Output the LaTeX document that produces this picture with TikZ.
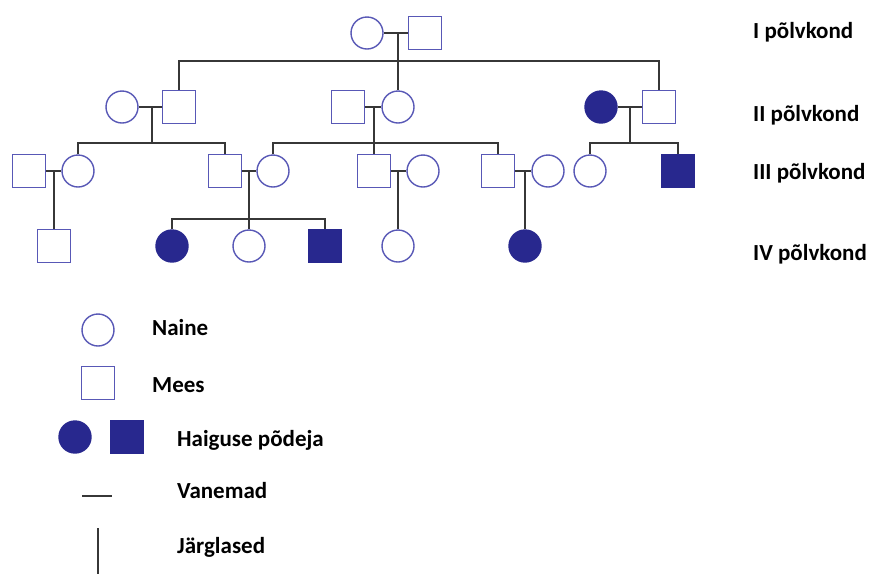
\documentclass[tikz,border=0pt]{standalone}
\usepackage{fontspec}
\setmainfont{Carlito}
\definecolor{outl}{RGB}{88,88,182}
\definecolor{fillc}{RGB}{40,40,142}
\definecolor{linec}{RGB}{55,55,55}
\begin{document}
\begin{tikzpicture}[x=1pt,y=-1pt,
  fem/.style={circle,draw=outl,line width=1.4pt,minimum size=32pt,inner sep=0pt,fill=white},
  mal/.style={rectangle,draw=outl,line width=1.4pt,minimum size=33pt,inner sep=0pt,fill=white},
  aff/.style={fill=fillc,draw=fillc},
  rel/.style={draw=linec,line width=1.5pt},
  lab/.style={anchor=base west,inner sep=0pt,font=\fontsize{23}{27}\selectfont\bfseries,text=black}]
\useasboundingbox (0,0) rectangle (872,574);
% Generation I
\node[fem] (f1) at (367,33) {};
\node[mal] (m1) at (425,33) {};
% Generation II
\node[fem] (f2a) at (122,107) {};
\node[mal] (m2a) at (179,107) {};
\node[mal] (m2b) at (348,107) {};
\node[fem] (f2b) at (398,107) {};
\node[fem,aff] (f2c) at (601,107) {};
\node[mal] (m2c) at (659,107) {};
% Generation III
\node[mal] (m3a) at (29,171) {};
\node[fem] (f3a) at (78,171) {};
\node[mal] (m3b) at (225,171) {};
\node[fem] (f3b) at (273,171) {};
\node[mal] (m3c) at (374,171) {};
\node[fem] (f3c) at (423,171) {};
\node[mal] (m3d) at (498,171) {};
\node[fem] (f3d) at (548,171) {};
\node[fem] (f3e) at (590,171) {};
\node[mal,aff] (m3f) at (678,171) {};
% Generation IV
\node[mal] (m4a) at (54,246) {};
\node[fem,aff] (f4b) at (172,246) {};
\node[fem] (f4c) at (249,246) {};
\node[mal,aff] (m4d) at (325,246) {};
\node[fem] (f4e) at (398,246) {};
\node[fem,aff] (f4f) at (525,246) {};
% junctions
\coordinate (j1) at (398,33);   \coordinate (b1) at (398,61);
\coordinate (j2a) at (152,107); \coordinate (b2a) at (152,143);
\coordinate (j2b) at (374,107); \coordinate (b2b) at (374,143);
\coordinate (j2c) at (630,107); \coordinate (b2c) at (630,143);
\coordinate (j3a) at (54,171);
\coordinate (j3b) at (249,171); \coordinate (b3b) at (249,219);
\coordinate (j3c) at (398,171);
\coordinate (j3d) at (525,171);
\begin{scope}[on background layer/.try]
\end{scope}
% Gen I links
\draw[rel] (f1.east) -- (m1.west);
\draw[rel] (j1) -- (b1);
\draw[rel] (m2a.north) |- (b1) -| (m2c.north);
\draw[rel] (b1) -- (f2b.north);
% Gen II links
\draw[rel] (f2a.east) -- (m2a.west);
\draw[rel] (j2a) -- (b2a);
\draw[rel] (f3a.north) |- (b2a) -| (m3b.north);
\draw[rel] (m2b.east) -- (f2b.west);
\draw[rel] (j2b) -- (b2b);
\draw[rel] (f3b.north) |- (b2b) -| (m3d.north);
\draw[rel] (b2b) -- (m3c.north);
\draw[rel] (f2c.east) -- (m2c.west);
\draw[rel] (j2c) -- (b2c);
\draw[rel] (f3e.north) |- (b2c) -| (m3f.north);
% Gen III links
\draw[rel] (m3a.east) -- (f3a.west);
\draw[rel] (j3a) -- (m4a.north);
\draw[rel] (m3b.east) -- (f3b.west);
\draw[rel] (j3b) -- (b3b);
\draw[rel] (f4b.north) |- (b3b) -| (m4d.north);
\draw[rel] (b3b) -- (f4c.north);
\draw[rel] (m3c.east) -- (f3c.west);
\draw[rel] (j3c) -- (f4e.north);
\draw[rel] (m3d.east) -- (f3d.west);
\draw[rel] (j3d) -- (f4f.north);
% Generation labels
\node[lab] (g1) at (753,38) {I põlvkond};
\node[lab] (g2) at (753,121) {II põlvkond};
\node[lab] (g3) at (753,179) {III põlvkond};
\node[lab] (g4) at (753,260) {IV põlvkond};
% Legend
\node[fem] (lf) at (98,330) {};
\node[lab] (tn) at (152,335) {Naine};
\node[mal] (lm) at (98,383) {};
\node[lab] (tm) at (152,392) {Mees};
\node[fem,aff] (lfa) at (75,437) {};
\node[mal,aff] (lma) at (127,437) {};
\node[lab] (th) at (177,446) {Haiguse põdeja};
\coordinate (va) at (82,496); \coordinate (vb) at (112,496);
\draw[rel] (va) -- (vb);
\node[lab] (tv) at (177,498) {Vanemad};
\coordinate (ja) at (98,528); \coordinate (jb) at (98,574);
\draw[rel] (ja) -- (jb);
\node[lab] (tj) at (177,553) {Järglased};
\end{tikzpicture}
\end{document}
